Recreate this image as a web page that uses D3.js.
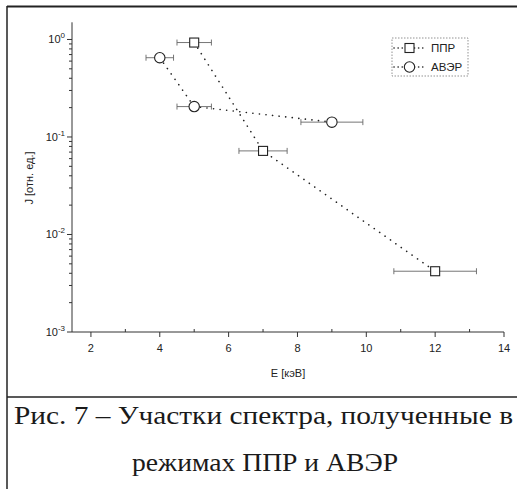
<!DOCTYPE html>
<html>
<head>
<meta charset="utf-8">
<style>
  body { margin: 0; background: #fff; }
  svg { display: block; }
  text { font-family: "Liberation Sans", Arial, sans-serif; fill: #222; }
  .cap { font-family: "Liberation Serif", "Times New Roman", serif; fill: #1a1a1a; }
</style>
</head>
<body>
<script src="https://d3js.org/d3.v7.min.js"></script>
<script>

// ППР series
var pprE = [5, 7, 12];
var pprJ = [0.93, 0.072, 0.0042];
var pprErr = [0.5, 0.7, 1.2];

// АВЭР series
var averE = [4, 5, 9];
var averJ = [0.65, 0.205, 0.142];
var averErr = [0.4, 0.5, 0.9];

var seriesNames = ["ППР", "АВЭР"];
var xTicks = [2, 4, 6, 8, 10, 12, 14];
var yTicks = [1e-3, 1e-2, 1e-1, 1];
var yExp = ["-3", "-2", "-1", "0"];
var xLabel = "E [кэВ]";
var yLabel = "J [отн. ед.]";
var caption1 = "Рис. 7 – Участки спектра, полученные в";
var caption2 = "режимах ППР и АВЭР";

var W = 517, H = 489;

var svg = d3.select("body").append("svg")
    .attr("width", W)
    .attr("height", H);

svg.append("rect").attr("width", W).attr("height", H).attr("fill", "#fff");

var x = d3.scaleLinear()
    .domain([1.45, 14])
    .range([72, 504]);

var y = d3.scaleLog()
    .domain([1e-3, 1.5])
    .range([332, 22.3]);

// figure frame
svg.append("line").attr("x1", 7).attr("x2", W).attr("y1", 6.5).attr("y2", 6.5)
    .attr("stroke", "#222").attr("stroke-width", 2);
svg.append("line").attr("x1", 7).attr("x2", 7).attr("y1", 6).attr("y2", H)
    .attr("stroke", "#222").attr("stroke-width", 1.5);
svg.append("line").attr("x1", 7).attr("x2", W).attr("y1", 397).attr("y2", 397)
    .attr("stroke", "#222").attr("stroke-width", 1.5);

// x axis
var xAxis = svg.append("g").attr("transform", "translate(0,332)");
xAxis.append("line").attr("x1", 72).attr("x2", 504).attr("stroke", "#333");
xAxis.selectAll(".maj").data(xTicks).enter().append("line")
    .attr("x1", function(d) { return x(d); }).attr("x2", function(d) { return x(d); })
    .attr("y1", 0).attr("y2", 5).attr("stroke", "#333");
xAxis.selectAll(".min").data(d3.range(3, 14, 2)).enter().append("line")
    .attr("x1", function(d) { return x(d); }).attr("x2", function(d) { return x(d); })
    .attr("y1", 0).attr("y2", -3).attr("stroke", "#333");
xAxis.selectAll(".lbl").data(xTicks).enter().append("text")
    .attr("x", function(d) { return x(d); })
    .attr("y", 20)
    .attr("text-anchor", "middle")
    .style("font-size", "11px")
    .text(function(d) { return d; });

// y axis
var yAxis = svg.append("g");
yAxis.append("line").attr("x1", 72).attr("x2", 72).attr("y1", 22.3).attr("y2", 332).attr("stroke", "#333");
yAxis.selectAll(".maj").data(yTicks).enter().append("line")
    .attr("x1", 67).attr("x2", 72)
    .attr("y1", function(d) { return y(d); }).attr("y2", function(d) { return y(d); })
    .attr("stroke", "#333");
var minors = [];
[1e-3, 1e-2, 1e-1, 1].forEach(function(dec) {
  for (var k = 2; k <= 9; k++) if (dec * k <= 1.5) minors.push(dec * k);
});
yAxis.selectAll(".min").data(minors).enter().append("line")
    .attr("x1", 69).attr("x2", 72)
    .attr("y1", function(d) { return y(d); }).attr("y2", function(d) { return y(d); })
    .attr("stroke", "#333");
var ylbl = yAxis.selectAll(".lbl").data(yTicks).enter().append("text")
    .attr("x", 65)
    .attr("y", function(d) { return y(d) + 4; })
    .attr("text-anchor", "end")
    .style("font-size", "11px");
ylbl.append("tspan").text("10");
ylbl.append("tspan").attr("dy", -5).style("font-size", "8px")
    .text(function(d, i) { return yExp[i]; });

// axis titles
svg.append("text")
    .attr("x", 288).attr("y", 377)
    .attr("text-anchor", "middle")
    .style("font-size", "11px")
    .text(xLabel);
svg.append("text")
    .attr("transform", "translate(33,178)rotate(-90)")
    .attr("text-anchor", "middle")
    .style("font-size", "11px")
    .text(yLabel);

function drawSeries(E, J, err, shape) {
  var pts = E.map(function(e, i) { return { e: e, j: J[i], s: err[i] }; });
  var line = d3.line().x(function(d) { return x(d.e); }).y(function(d) { return y(d.j); });
  svg.append("path").datum(pts)
      .attr("d", line)
      .attr("fill", "none")
      .attr("stroke", "#222")
      .attr("stroke-width", 1.6)
      .attr("stroke-linecap", "round")
      .attr("stroke-dasharray", "0.1,6.5");
  var g = svg.append("g").selectAll("g").data(pts).enter().append("g");
  g.append("line")
      .attr("x1", function(d) { return x(d.e - d.s); })
      .attr("x2", function(d) { return x(d.e + d.s); })
      .attr("y1", function(d) { return y(d.j); })
      .attr("y2", function(d) { return y(d.j); })
      .attr("stroke", "#666").attr("stroke-width", 0.9);
  [-1, 1].forEach(function(sg) {
    g.append("line")
        .attr("x1", function(d) { return x(d.e + sg * d.s); })
        .attr("x2", function(d) { return x(d.e + sg * d.s); })
        .attr("y1", function(d) { return y(d.j) - 3; })
        .attr("y2", function(d) { return y(d.j) + 3; })
        .attr("stroke", "#666").attr("stroke-width", 0.9);
  });
  if (shape === "square") {
    g.append("rect")
        .attr("x", function(d) { return x(d.e) - 4.5; })
        .attr("y", function(d) { return y(d.j) - 4.5; })
        .attr("width", 9).attr("height", 9)
        .attr("fill", "#fff").attr("stroke", "#222").attr("stroke-width", 1.1);
  } else {
    g.append("circle")
        .attr("cx", function(d) { return x(d.e); })
        .attr("cy", function(d) { return y(d.j); })
        .attr("r", 5.2)
        .attr("fill", "#fff").attr("stroke", "#222").attr("stroke-width", 1.1);
  }
}

drawSeries(pprE, pprJ, pprErr, "square");
drawSeries(averE, averJ, averErr, "circle");

// legend
var lg = svg.append("g");
lg.append("rect").attr("x", 392).attr("y", 38).attr("width", 76).attr("height", 38)
    .attr("fill", "#fff").attr("stroke", "#777").attr("stroke-width", 0.8)
    .attr("stroke-dasharray", "1.5,1.5");
seriesNames.forEach(function(name, i) {
  var ly = 48 + i * 19;
  lg.append("line").attr("x1", 394).attr("x2", 426).attr("y1", ly).attr("y2", ly)
      .attr("stroke", "#222").attr("stroke-width", 1.6)
      .attr("stroke-linecap", "round").attr("stroke-dasharray", "0.1,4");
  if (i === 0) {
    lg.append("rect").attr("x", 405).attr("y", ly - 4.5).attr("width", 9).attr("height", 9)
        .attr("fill", "#fff").attr("stroke", "#222").attr("stroke-width", 1.1);
  } else {
    lg.append("circle").attr("cx", 409.5).attr("cy", ly).attr("r", 5.2)
        .attr("fill", "#fff").attr("stroke", "#222").attr("stroke-width", 1.1);
  }
  lg.append("text").attr("x", 431).attr("y", ly + 4)
      .style("font-size", "11.5px")
      .text(name);
});

// caption
svg.append("text").attr("class", "cap")
    .attr("x", 14).attr("y", 424)
    .attr("textLength", 499).attr("lengthAdjust", "spacingAndGlyphs")
    .style("font-size", "25px")
    .text(caption1);
svg.append("text").attr("class", "cap")
    .attr("x", 132).attr("y", 471)
    .attr("textLength", 266).attr("lengthAdjust", "spacingAndGlyphs")
    .style("font-size", "25px")
    .text(caption2);

</script>
</body>
</html>
